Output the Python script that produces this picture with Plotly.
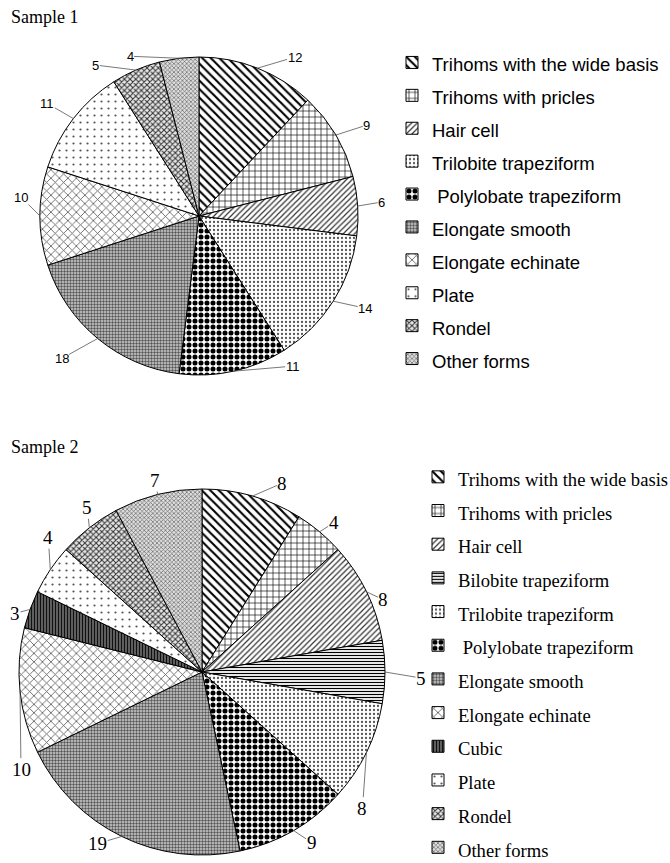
import math
import plotly.graph_objects as go

# ---------------- data ----------------
s1_labels = ["Trihoms with the wide basis", "Trihoms with pricles", "Hair cell",
             "Trilobite trapeziform", " Polylobate trapeziform", "Elongate smooth",
             "Elongate echinate", "Plate", "Rondel", "Other forms"]
s1_values = [12, 9, 6, 14, 11, 18, 10, 11, 5, 4]

s2_labels = ["Trihoms with the wide basis", "Trihoms with pricles", "Hair cell",
             "Bilobite trapeziform", "Trilobite trapeziform", " Polylobate trapeziform",
             "Elongate smooth", "Elongate echinate", "Cubic", "Plate", "Rondel", "Other forms"]
s2_values = [8, 4, 8, 5, 8, 9, 19, 10, 3, 4, 5, 7]

# ---------------- styles ----------------
PAT = {
    "Trihoms with the wide basis": dict(shape="\\", size=6, solidity=0.35, fgcolor="#000", bgcolor="#fff"),
    "Trihoms with pricles": dict(shape="+", size=6, solidity=0.2, fgcolor="#000", bgcolor="#fff"),
    "Hair cell": dict(shape="/", size=4, solidity=0.3, fgcolor="#333", bgcolor="#fff"),
    "Bilobite trapeziform": dict(shape="-", size=3, solidity=0.4, fgcolor="#000", bgcolor="#fff"),
    "Trilobite trapeziform": dict(shape=".", size=4, solidity=0.25, fgcolor="#555", bgcolor="#fff"),
    "Polylobate trapeziform": dict(shape=".", size=6, solidity=0.55, fgcolor="#000", bgcolor="#fff"),
    "Elongate smooth": dict(shape=".", size=3, solidity=0.5, fgcolor="#555", bgcolor="#d0d0d0"),
    "Elongate echinate": dict(shape="x", size=6, solidity=0.25, fgcolor="#555", bgcolor="#fff"),
    "Cubic": dict(shape="|", size=3, solidity=0.5, fgcolor="#111", bgcolor="#777"),
    "Plate": dict(shape=".", size=7, solidity=0.08, fgcolor="#555", bgcolor="#fff"),
    "Rondel": dict(shape="x", size=4, solidity=0.45, fgcolor="#333", bgcolor="#e8e8e8"),
    "Other forms": dict(shape="x", size=3, solidity=0.4, fgcolor="#666", bgcolor="#ddd"),
}

# label offsets (px) from the slice's outer edge point
S1_OFF = [(37, -11), (31, -10), (24, -4), (32, 7), (59, -5), (-36, 20), (-19, -19), (-26, -15), (-40, -5), (-49, -2)]
S2_OFF = [(30, -13), (14, -9), (17, 8), (36, 6), (-4, 56), (18, 12), (-24, 7), (1, 78), (-15, 4), (-2, -32), (-2, -20), (-3, -14)]

W, H = 670, 863
SANS = "Liberation Sans, Arial, sans-serif"
SERIF = "Liberation Serif, Times New Roman, serif"


def patterns(labels):
    p = [PAT[l.strip()] for l in labels]
    return dict(shape=[d["shape"] for d in p], size=[d["size"] for d in p],
                solidity=[d["solidity"] for d in p], fgcolor=[d["fgcolor"] for d in p],
                bgcolor=[d["bgcolor"] for d in p], fillmode="replace")


def pie(labels, values, cx, cy, r, legend, fsize):
    dom_x = [(cx - r) / W, (cx + r) / W]
    dom_y = [1 - (cy + r) / H, 1 - (cy - r) / H]
    return go.Pie(
        labels=[f"<span style='font-size:{fsize}px'>{l}</span>" for l in labels],
        values=values,
        sort=False, direction="clockwise", rotation=0,
        textinfo="none", hoverinfo="label+value",
        marker=dict(colors=["#fff"] * len(labels), line=dict(color="#000", width=1),
                    pattern=patterns(labels)),
        domain=dict(x=dom_x, y=dom_y),
        legend=legend,
    )


def labels_ann(values, cx, cy, r, offs, font):
    anns = []
    total = sum(values)
    cum = 0
    for v, (ox, oy) in zip(values, offs):
        mid = (cum + v / 2) / total * 2 * math.pi
        cum += v
        ex = cx + r * math.sin(mid)
        ey = cy - r * math.cos(mid)
        anns.append(dict(
            x=ex / W, y=1 - ey / H, xref="paper", yref="paper",
            text=str(v), showarrow=True, arrowhead=0, arrowwidth=0.8, arrowcolor="#555",
            ax=ox, ay=oy, standoff=0, borderpad=0,
            font=font,
        ))
    return anns


C1 = (199, 216, 159)
C2 = (202, 672, 183)

fig = go.Figure()
fig.add_trace(pie(s1_labels, s1_values, *C1, "legend", 18.5))
fig.add_trace(pie(s2_labels, s2_values, *C2, "legend2", 18.6))

annotations = []
annotations += labels_ann(s1_values, *C1, S1_OFF, dict(family=SANS, size=13, color="#000"))
annotations += labels_ann(s2_values, *C2, S2_OFF, dict(family=SERIF, size=19, color="#000"))
annotations += [
    dict(x=9 / W, y=1 - 5 / H, xref="paper", yref="paper", xanchor="left", yanchor="top",
         text="Sample 1", showarrow=False, font=dict(family=SERIF, size=18, color="#000")),
    dict(x=9 / W, y=1 - 435 / H, xref="paper", yref="paper", xanchor="left", yanchor="top",
         text="Sample 2", showarrow=False, font=dict(family=SERIF, size=18, color="#000")),
]

fig.update_layout(
    width=W, height=H,
    margin=dict(l=0, r=0, t=0, b=0, autoexpand=False),
    paper_bgcolor="#fff", plot_bgcolor="#fff",
    showlegend=True,
    legend=dict(x=392 / W, y=1 - 41 / H, xanchor="left", yanchor="top",
                font=dict(family=SANS, size=23, color="#000"),
                bgcolor="rgba(0,0,0,0)", itemclick=False),
    legend2=dict(x=418 / W, y=1 - 455 / H, xanchor="left", yanchor="top",
                 font=dict(family=SERIF, size=23.6, color="#000"),
                 bgcolor="rgba(0,0,0,0)", itemclick=False),
    annotations=annotations,
)

fig.write_html("out.html", config={"displayModeBar": False},
               post_script="document.body.style.margin='0px';")
